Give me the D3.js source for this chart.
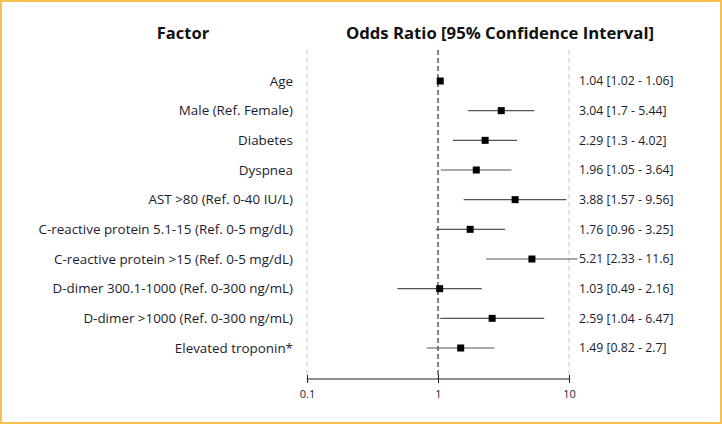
<!DOCTYPE html>
<html>
<head>
<meta charset="utf-8">
<script src="https://cdn.jsdelivr.net/npm/d3@7"></script>
<style>
  html, body { margin: 0; padding: 0; background: #fff; }
  svg { display: block; }
</style>
</head>
<body>
<div id="chart"></div>
<script>
// forest plot data
const factors = [
  "Age",
  "Male (Ref. Female)",
  "Diabetes",
  "Dyspnea",
  "AST >80 (Ref. 0-40 IU/L)",
  "C-reactive protein 5.1-15 (Ref. 0-5 mg/dL)",
  "C-reactive protein >15 (Ref. 0-5 mg/dL)",
  "D-dimer 300.1-1000 (Ref. 0-300 ng/mL)",
  "D-dimer >1000 (Ref. 0-300 ng/mL)",
  "Elevated troponin*"
];
const oddsRatio = [1.04, 3.04, 2.29, 1.96, 3.88, 1.76, 5.21, 1.03, 2.59, 1.49];
const ciLow     = [1.02, 1.7, 1.3, 1.05, 1.57, 0.96, 2.33, 0.49, 1.04, 0.82];
const ciHigh    = [1.06, 5.44, 4.02, 3.64, 9.56, 3.25, 11.6, 2.16, 6.47, 2.7];
const tickValues = [0.1, 1, 10];

const width = 722, height = 424;
const font = "'Open Sans', sans-serif";
const textColor = "#1c1c2e";

const svg = d3.select("#chart").append("svg")
    .attr("width", width)
    .attr("height", height);

// orange frame
svg.append("rect")
    .attr("x", 1).attr("y", 1)
    .attr("width", width - 2).attr("height", height - 2)
    .attr("fill", "none")
    .attr("stroke", "#f6c14e")
    .attr("stroke-width", 2);

const x = d3.scaleLog()
    .domain([0.1, 10])
    .range([307, 569]);

const y = d3.scalePoint()
    .domain(d3.range(factors.length))
    .range([81, 348]);

const axisY = 379;
const topY = 50;

// dashed grey guides at the ends
svg.selectAll(".guide")
    .data([0.1, 10])
    .enter().append("line")
      .attr("x1", d => x(d)).attr("x2", d => x(d))
      .attr("y1", topY).attr("y2", axisY)
      .attr("stroke", "#c8c8c8")
      .attr("stroke-dasharray", "5,3");

// reference line at 1
svg.append("line")
    .attr("x1", x(1)).attr("x2", x(1))
    .attr("y1", topY).attr("y2", axisY)
    .attr("stroke", "#000")
    .attr("stroke-dasharray", "5,3");

// axis
const xAxis = d3.axisBottom(x)
    .tickValues(tickValues)
    .tickSize(4)
    .tickFormat(d => d);

const ax = svg.append("g")
    .attr("transform", `translate(0,${axisY})`)
    .call(xAxis);
ax.select(".domain").attr("d", `M${x(0.1)},0H${x(10)}`).attr("stroke", "#222");
ax.selectAll(".tick line").attr("y1", -4).attr("stroke", "#222");
ax.selectAll(".tick text")
    .attr("y", 11)
    .style("font-family", font)
    .style("font-size", "11px")
    .attr("fill", "#1c1c40");

const rows = svg.selectAll(".row")
    .data(factors)
    .enter().append("g")
      .attr("class", "row")
      .attr("transform", (d, i) => `translate(0,${y(i)})`);

rows.append("line")
    .attr("x1", (d, i) => x(ciLow[i]))
    .attr("x2", (d, i) => x(ciHigh[i]))
    .attr("stroke", "#555")
    .attr("stroke-width", 1.2);

rows.append("rect")
    .attr("x", (d, i) => x(oddsRatio[i]) - 3.5)
    .attr("y", -3.5)
    .attr("width", 7).attr("height", 7)
    .attr("fill", "#000");

rows.append("text")
    .attr("x", 293)
    .attr("dy", "0.35em")
    .attr("text-anchor", "end")
    .style("font-family", font)
    .style("font-size", "13.4px")
    .attr("fill", textColor)
    .text(d => d);

rows.append("text")
    .attr("x", 579)
    .attr("dy", "0.35em")
    .style("font-family", font)
    .style("font-size", "12.3px")
    .attr("fill", textColor)
    .text((d, i) => `${oddsRatio[i]} [${ciLow[i]} - ${ciHigh[i]}]`);

// headers
svg.append("text")
    .attr("x", 183).attr("y", 33)
    .attr("dy", "0.35em")
    .attr("text-anchor", "middle")
    .style("font-family", font)
    .style("font-size", "16.5px")
    .style("font-weight", "bold")
    .attr("fill", "#111")
    .text("Factor");

svg.append("text")
    .attr("x", 500).attr("y", 33)
    .attr("dy", "0.35em")
    .attr("text-anchor", "middle")
    .style("font-family", font)
    .style("font-size", "16.7px")
    .style("font-weight", "bold")
    .attr("fill", "#111")
    .text("Odds Ratio [95% Confidence Interval]");
</script>
</body>
</html>
